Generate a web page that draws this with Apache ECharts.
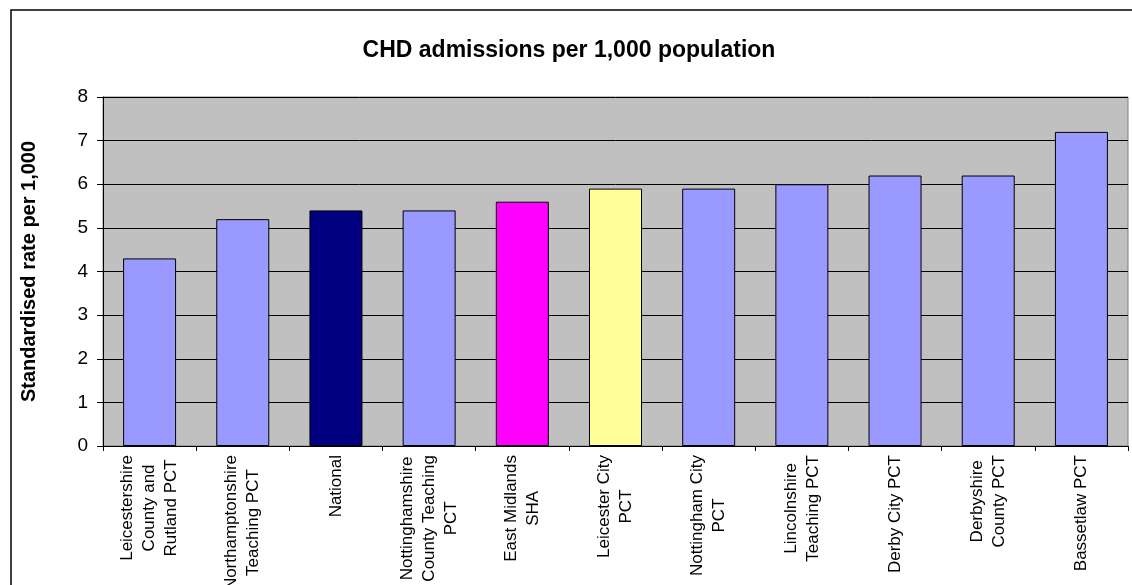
<!DOCTYPE html>
<html>
<head>
<meta charset="utf-8">
<script src="https://cdn.jsdelivr.net/npm/echarts@6/dist/echarts.min.js"></script>
<style>
html,body{margin:0;padding:0;background:#fff;}
#chart{width:1132px;height:585px;}
</style>
</head>
<body>
<div id="chart"></div>
<script>
const categories = [
  "Leicestershire\nCounty and\nRutland PCT",
  "Northamptonshire\nTeaching PCT",
  "National",
  "Nottinghamshire\nCounty Teaching\nPCT",
  "East Midlands\nSHA",
  "Leicester City\nPCT",
  "Nottingham City\nPCT",
  "Lincolnshire\nTeaching PCT",
  "Derby City PCT",
  "Derbyshire\nCounty PCT",
  "Bassetlaw PCT"
];
const values = [4.3, 5.2, 5.4, 5.4, 5.6, 5.9, 5.9, 6.0, 6.2, 6.2, 7.2];
const barColors = ["#9999FF", "#9999FF", "#000080", "#9999FF", "#FF00FF", "#FFFF99",
                   "#9999FF", "#9999FF", "#9999FF", "#9999FF", "#9999FF"];
const titleText = "CHD admissions per 1,000 population";
const yAxisName = "Standardised rate per 1,000";
const yMin = 0, yMax = 8, yInterval = 1;

const FONT = "'Liberation Sans', Arial, sans-serif";
const chart = echarts.init(document.getElementById('chart'), null, {renderer: 'canvas'});

const gridL = 103, gridR = 4, gridT = 97, gridB = 139;

chart.setOption({
  animation: false,
  backgroundColor: '#ffffff',
  title: {
    text: titleText,
    left: 564, top: 34, textAlign: 'center',
    textStyle: {fontFamily: FONT, fontWeight: 'bold', fontSize: 23, color: '#000'}
  },
  graphic: [
    {type: 'rect', silent: true, z: -1,
     shape: {x: 11, y: 10, width: 1300, height: 800},
     style: {fill: null, stroke: '#000', lineWidth: 1.5}},
    {type: 'rect', silent: true, z: 0,
     shape: {x: gridL, y: gridT, width: 1132 - gridL - gridR, height: 585 - gridT - gridB},
     style: {fill: '#C0C0C0', stroke: '#808080', lineWidth: 1}}
  ],
  grid: {left: gridL, right: gridR, top: gridT, bottom: gridB, containLabel: false, outerBoundsMode: 'none'},
  xAxis: {
    type: 'category',
    data: categories,
    axisLine: {show: true, lineStyle: {color: '#000', width: 1}},
    axisTick: {show: true, length: 5, lineStyle: {color: '#000'}},
    axisLabel: {
      rotate: 90, margin: 9, interval: 0,
      fontFamily: FONT, fontSize: 17, color: '#000', lineHeight: 22,
      formatter: function (v) { return v.split('\n').map(s => '{c|' + s + '}').join('\n'); },
      rich: {c: {align: 'center', fontFamily: FONT, fontSize: 17, color: '#000', lineHeight: 22}}
    },
    splitLine: {show: false}
  },
  yAxis: {
    type: 'value',
    min: yMin, max: yMax, interval: yInterval,
    name: yAxisName,
    nameLocation: 'middle',
    nameGap: 64,
    nameRotate: 90,
    nameTextStyle: {fontFamily: FONT, fontWeight: 'bold', fontSize: 20, color: '#000'},
    axisLine: {show: true, lineStyle: {color: '#000', width: 1}},
    axisTick: {show: true, length: 6, lineStyle: {color: '#000'}},
    axisLabel: {margin: 15, fontFamily: FONT, fontSize: 19, color: '#000'},
    splitLine: {show: true, lineStyle: {color: '#000', width: 1}}
  },
  series: [{
    type: 'bar',
    data: values.map((v, i) => ({value: v, itemStyle: {color: barColors[i]}})),
    barWidth: 53,
    itemStyle: {borderColor: '#000', borderWidth: 1},
    z: 3
  }]
});
</script>
</body>
</html>
